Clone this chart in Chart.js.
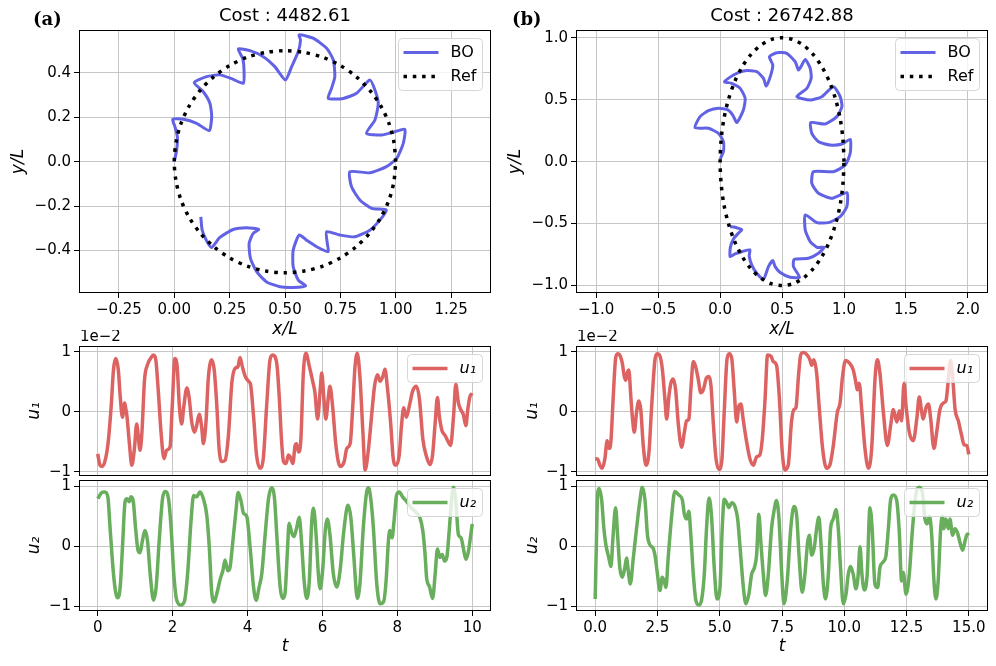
<!DOCTYPE html>
<html lang="en">

<head>
    <meta charset="UTF-8">
    <title>BO vs Ref</title>
    <script src="https://cdn.jsdelivr.net/npm/chart.js"></script>
    <style>
        body { margin: 0; background: #fff; }
        #fig { position: relative; width: 996px; height: 666px; }
        canvas { position: absolute; }
    </style>
</head>

<body>
    <div id="fig">
        <canvas id="trajA" width="500" height="345" style="left:0;top:0"></canvas>
        <canvas id="trajB" width="496" height="345" style="left:500px;top:0"></canvas>
        <canvas id="u1A" width="500" height="158" style="left:0;top:330px"></canvas>
        <canvas id="u2A" width="500" height="194" style="left:0;top:468px"></canvas>
        <canvas id="u1B" width="496" height="158" style="left:500px;top:330px"></canvas>
        <canvas id="u2B" width="496" height="194" style="left:500px;top:468px"></canvas>
    </div>

<script>
    // reference path (circle for a, ellipse for b)
    const refX = [1.000, 0.992, 0.970, 0.933, 0.883, 0.821, 0.750, 0.671, 0.587, 0.500, 0.413, 0.329, 0.250, 0.179, 0.117, 0.067, 0.030, 0.008, 0.000,
        0.008, 0.030, 0.067, 0.117, 0.179, 0.250, 0.329, 0.413, 0.500, 0.587, 0.671, 0.750, 0.821, 0.883, 0.933, 0.970, 0.992, 1.000];
    const refAy = [0.000, 0.087, 0.171, 0.250, 0.321, 0.383, 0.433, 0.470, 0.492, 0.500, 0.492, 0.470, 0.433, 0.383, 0.321, 0.250, 0.171, 0.087, 0.000,
        -0.087, -0.171, -0.250, -0.321, -0.383, -0.433, -0.470, -0.492, -0.500, -0.492, -0.470, -0.433, -0.383, -0.321, -0.250, -0.171, -0.087, 0.000];
    const refBy = [0.000, 0.174, 0.342, 0.500, 0.643, 0.766, 0.866, 0.940, 0.985, 1.000, 0.985, 0.940, 0.866, 0.766, 0.643, 0.500, 0.342, 0.174, 0.000,
        -0.174, -0.342, -0.500, -0.643, -0.766, -0.866, -0.940, -0.985, -1.000, -0.985, -0.940, -0.866, -0.766, -0.643, -0.500, -0.342, -0.174, 0.000];

    // BO trajectory (a)
    const boAx = [0.000, 0.011, 0.014, 0.003, -0.007, 0.041, 0.101, 0.158, 0.169, 0.161, 0.131, 0.090, 0.146, 0.206, 0.266, 0.312, 0.315, 0.309, 0.289, 0.342,
        0.402, 0.454, 0.502, 0.530, 0.560, 0.570, 0.564, 0.627, 0.688, 0.718, 0.725, 0.710, 0.695, 0.763, 0.823, 0.883, 0.906, 0.921, 0.906, 0.868,
        0.936, 0.996, 1.041, 1.034, 1.004, 0.958, 0.883, 0.793, 0.800, 0.838, 0.891, 0.958, 0.928, 0.883, 0.815, 0.748, 0.688, 0.691, 0.695, 0.643,
        0.597, 0.564, 0.537, 0.537, 0.560, 0.593, 0.537, 0.477, 0.417, 0.372, 0.344, 0.338, 0.356, 0.381, 0.326, 0.266, 0.206, 0.168, 0.146, 0.126, 0.120];
    const boAy = [0.000, 0.053, 0.113, 0.158, 0.191, 0.191, 0.173, 0.140, 0.203, 0.263, 0.315, 0.356, 0.383, 0.391, 0.371, 0.353, 0.413, 0.465, 0.508, 0.500,
        0.473, 0.428, 0.368, 0.428, 0.496, 0.548, 0.571, 0.556, 0.511, 0.458, 0.383, 0.330, 0.285, 0.285, 0.308, 0.368, 0.323, 0.263, 0.188, 0.128,
        0.120, 0.135, 0.146, 0.083, 0.015, -0.022, -0.050, -0.045, -0.112, -0.172, -0.210, -0.218, -0.263, -0.308, -0.338, -0.330, -0.315, -0.368, -0.405, -0.383,
        -0.353, -0.330, -0.398, -0.473, -0.533, -0.559, -0.566, -0.563, -0.541, -0.495, -0.435, -0.368, -0.323, -0.305, -0.297, -0.305, -0.341, -0.386, -0.356, -0.308, -0.248];

    // BO trajectory (b)
    const boBx = [0.000, 0.027, 0.027, -0.013, -0.094, -0.202, -0.162, -0.094, -0.013, 0.062, 0.102, 0.135, 0.188, 0.202, 0.162, 0.094, 0.035, 0.108, 0.202, 0.296,
        0.350, 0.372, 0.409, 0.425, 0.398, 0.458, 0.538, 0.606, 0.633, 0.660, 0.687, 0.727, 0.735, 0.700, 0.619, 0.727, 0.821, 0.915, 0.969, 0.983,
        0.942, 0.848, 0.732, 0.740, 0.794, 0.888, 0.983, 1.050, 1.050, 1.010, 0.915, 0.754, 0.740, 0.794, 0.902, 1.023, 1.023, 0.969, 0.875, 0.781,
        0.687, 0.687, 0.727, 0.781, 0.840, 0.794, 0.713, 0.598, 0.592, 0.641, 0.565, 0.485, 0.444, 0.425, 0.390, 0.350, 0.296, 0.255, 0.235, 0.240,
        0.180, 0.120, 0.081, 0.083, 0.110, 0.150, 0.175, 0.120, 0.081];
    const boBy = [0.020, 0.081, 0.161, 0.228, 0.269, 0.274, 0.363, 0.411, 0.430, 0.417, 0.376, 0.315, 0.417, 0.511, 0.591, 0.632, 0.645, 0.699, 0.734, 0.726,
        0.672, 0.610, 0.699, 0.780, 0.847, 0.879, 0.874, 0.806, 0.739, 0.780, 0.825, 0.753, 0.672, 0.591, 0.524, 0.497, 0.524, 0.605, 0.524, 0.444,
        0.363, 0.304, 0.315, 0.228, 0.161, 0.134, 0.142, 0.180, 0.067, -0.027, -0.081, -0.081, -0.175, -0.255, -0.296, -0.250, -0.363, -0.444, -0.492, -0.492,
        -0.430, -0.551, -0.645, -0.691, -0.691, -0.739, -0.780, -0.788, -0.847, -0.933, -0.933, -0.895, -0.847, -0.798, -0.847, -0.949, -0.901, -0.833, -0.760, -0.712,
        -0.725, -0.745, -0.766, -0.690, -0.620, -0.575, -0.551, -0.530, -0.525];

    // controls (a), units of 1e-2
    const tA1 = [0, 0.06, 0.11, 0.19, 0.28, 0.36, 0.42, 0.48, 0.55, 0.60, 0.66, 0.72, 0.75, 0.78, 0.85, 0.91, 0.98, 1.04, 1.08, 1.13,
        1.18, 1.25, 1.33, 1.44, 1.49, 1.55, 1.62, 1.69, 1.77, 1.84, 1.93, 1.99, 2.06, 2.12, 2.18, 2.24, 2.30, 2.38, 2.44, 2.51,
        2.58, 2.64, 2.71, 2.78, 2.82, 2.89, 2.95, 3.04, 3.11, 3.18, 3.24, 3.31, 3.40, 3.49, 3.58, 3.67, 3.74, 3.80, 3.86, 3.94,
        4.03, 4.08, 4.16, 4.24, 4.33, 4.42, 4.51, 4.60, 4.67, 4.78, 4.85, 4.90, 4.96, 5.03, 5.09, 5.14, 5.21, 5.27, 5.31, 5.36,
        5.42, 5.49, 5.56, 5.65, 5.74, 5.80, 5.87, 5.94, 5.98, 6.04, 6.09, 6.16, 6.20, 6.27, 6.36, 6.47, 6.58, 6.65, 6.74, 6.81,
        6.87, 6.93, 7.00, 7.08, 7.14, 7.23, 7.32, 7.39, 7.47, 7.54, 7.61, 7.67, 7.73, 7.82, 7.89, 7.96, 8.05, 8.11, 8.17, 8.24,
        8.32, 8.41, 8.51, 8.59, 8.68, 8.78, 8.87, 8.94, 9.01, 9.07, 9.12, 9.19, 9.27, 9.36, 9.42, 9.50, 9.56, 9.63, 9.69, 9.76,
        9.83, 9.88, 9.94, 10.0];
    const uA1 = [-0.70, -0.89, -0.91, -0.83, -0.50, 0.10, 0.70, 0.89, 0.70, 0.26, -0.09, 0.15, 0.05, -0.07, -0.56, -0.89, -0.61, -0.20, -0.39, -0.64,
        -0.34, 0.54, 0.79, 0.92, 0.95, 0.87, 0.32, -0.34, -0.78, -0.64, -0.59, 0.10, 0.89, 0.76, 0.10, -0.20, 0.10, 0.40, 0.24, -0.17,
        -0.34, -0.23, -0.04, -0.28, -0.53, -0.17, 0.54, 0.87, 0.70, 0.10, -0.61, -0.83, -0.81, -0.39, 0.48, 0.73, 0.75, 0.91, 0.76, 0.59,
        0.51, 0.46, -0.07, -0.72, -0.94, -0.78, 0.10, 0.87, 0.95, 0.81, 0.21, -0.40, -0.83, -0.86, -0.72, -0.75, -0.86, -0.56, -0.53, -0.67,
        -0.50, 0.65, 0.98, 0.76, 0.51, 0.32, -0.12, 0.37, 0.65, 0.21, -0.12, 0.26, 0.43, 0.10, -0.56, -0.91, -0.83, -0.61, -0.53, 0.10,
        0.76, 0.98, 0.59, -0.34, -0.97, -0.61, -0.01, 0.43, 0.62, 0.51, 0.59, 0.71, 0.43, -0.18, -0.78, -0.89, -0.72, -0.23, 0.07, -0.09,
        0.10, 0.35, 0.43, 0.21, -0.45, -0.75, -0.88, -0.72, -0.18, 0.24, -0.07, -0.31, -0.39, -0.50, -0.56, -0.07, 0.46, 0.15, 0.04, -0.04,
        -0.23, 0.04, 0.26, 0.31];
    const tA2 = [0, 0.11, 0.19, 0.27, 0.33, 0.42, 0.48, 0.53, 0.60, 0.66, 0.73, 0.78, 0.84, 0.89, 0.95, 1.01, 1.08, 1.13, 1.19, 1.26,
        1.33, 1.40, 1.49, 1.56, 1.64, 1.73, 1.80, 1.89, 1.96, 2.03, 2.11, 2.22, 2.31, 2.40, 2.49, 2.56, 2.64, 2.73, 2.82, 2.91,
        2.98, 3.04, 3.11, 3.18, 3.27, 3.34, 3.40, 3.47, 3.53, 3.59, 3.68, 3.75, 3.83, 3.89, 3.98, 4.07, 4.16, 4.23, 4.31, 4.38,
        4.47, 4.56, 4.64, 4.72, 4.78, 4.87, 4.94, 5.00, 5.06, 5.11, 5.18, 5.24, 5.31, 5.38, 5.44, 5.51, 5.58, 5.65, 5.71, 5.76,
        5.83, 5.89, 5.94, 6.01, 6.08, 6.13, 6.20, 6.29, 6.38, 6.47, 6.56, 6.65, 6.69, 6.76, 6.84, 6.93, 7.00, 7.09, 7.18, 7.23,
        7.29, 7.36, 7.45, 7.54, 7.63, 7.70, 7.76, 7.80, 7.86, 7.91, 7.98, 8.05, 8.14, 8.25, 8.38, 8.52, 8.61, 8.68, 8.74, 8.78,
        8.86, 8.94, 9.01, 9.07, 9.14, 9.20, 9.26, 9.32, 9.39, 9.45, 9.50, 9.56, 9.63, 9.70, 9.76, 9.83, 9.90, 9.96, 10.0];
    const uA2 = [0.79, 0.89, 0.90, 0.82, 0.30, -0.46, -0.77, -0.86, -0.68, -0.03, 0.74, 0.79, 0.74, 0.82, 0.74, 0.30, -0.08, -0.11, 0.08, 0.26,
        0.08, -0.46, -0.90, -0.68, 0.08, 0.79, 0.91, 0.79, 0.30, -0.46, -0.90, -0.98, -0.93, -0.46, 0.41, 0.84, 0.82, 0.90, 0.79, 0.52,
        -0.03, -0.74, -0.93, -0.79, -0.55, -0.41, -0.23, -0.41, -0.36, -0.03, 0.52, 0.89, 0.74, 0.55, 0.49, -0.03, -0.68, -0.90, -0.68, -0.46,
        0.19, 0.79, 0.97, 0.79, 0.19, -0.68, -0.87, -0.79, -0.14, 0.38, 0.22, 0.16, 0.30, 0.48, 0.08, -0.57, -0.87, -0.57, 0.36, 0.63,
        0.19, -0.46, -0.71, -0.36, 0.30, 0.45, 0.19, -0.46, -0.68, -0.41, 0.19, 0.63, 0.68, 0.46, -0.19, -0.87, -0.63, 0.30, 0.90, 0.97,
        0.79, 0.30, -0.63, -0.96, -0.93, -0.57, 0.08, 0.26, 0.14, 0.41, 0.85, 0.90, 0.82, 0.74, 0.63, 0.55, 0.46, 0.25, -0.14, -0.52,
        -0.68, -0.87, -0.46, -0.05, -0.19, -0.14, -0.25, -0.19, 0.30, 0.79, 0.98, 0.74, 0.19, 0.14, -0.03, -0.22, -0.08, 0.19, 0.37];

    // controls (b), units of 1e-2
    const tB1 = [0, 0.10, 0.19, 0.28, 0.39, 0.48, 0.56, 0.63, 0.72, 0.82, 0.90, 1.01, 1.09, 1.17, 1.23, 1.30, 1.35, 1.43, 1.50, 1.57,
        1.66, 1.75, 1.83, 1.93, 2.04, 2.16, 2.26, 2.40, 2.49, 2.61, 2.70, 2.80, 2.87, 2.96, 3.04, 3.13, 3.23, 3.33, 3.47, 3.58,
        3.67, 3.76, 3.84, 3.94, 4.03, 4.14, 4.24, 4.34, 4.47, 4.57, 4.65, 4.74, 4.85, 4.97, 5.08, 5.18, 5.29, 5.38, 5.48, 5.58,
        5.68, 5.77, 5.85, 5.94, 6.08, 6.21, 6.35, 6.48, 6.61, 6.71, 6.82, 6.92, 7.06, 7.15, 7.28, 7.39, 7.51, 7.62, 7.75, 7.88,
        7.98, 8.06, 8.16, 8.25, 8.35, 8.49, 8.62, 8.69, 8.78, 8.89, 8.99, 9.13, 9.29, 9.42, 9.56, 9.72, 9.83, 9.93, 10.05, 10.20,
        10.36, 10.47, 10.52, 10.60, 10.70, 10.83, 10.97, 11.10, 11.24, 11.33, 11.43, 11.57, 11.73, 11.86, 11.97, 12.11, 12.21, 12.30, 12.40, 12.48,
        12.61, 12.77, 12.91, 13.01, 13.11, 13.17, 13.28, 13.38, 13.47, 13.60, 13.71, 13.84, 13.98, 14.08, 14.18, 14.27, 14.35, 14.45, 14.58, 14.71,
        14.81, 14.92, 15.0];
    const uB1 = [-0.78, -0.79, -0.89, -0.94, -0.78, -0.48, -0.61, -0.50, 0.21, 0.89, 0.97, 0.93, 0.81, 0.59, 0.53, 0.67, 0.70, 0.26, -0.12, -0.34,
        -0.01, 0.18, 0.04, -0.56, -0.89, -0.67, 0.04, 0.87, 0.97, 0.92, 0.70, 0.21, -0.12, 0.26, 0.48, 0.55, 0.37, -0.17, -0.59, -0.34,
        -0.15, -0.12, 0.37, 0.84, 0.76, 0.54, 0.32, 0.37, 0.57, 0.59, 0.43, -0.17, -0.78, -0.96, -0.83, -0.01, 0.87, 0.97, 0.90, 0.37,
        -0.17, 0.10, 0.13, -0.12, -0.50, -0.78, -0.89, -0.75, -0.72, -0.45, 0.21, 0.95, 0.93, 0.84, 0.78, 0.26, -0.67, -0.97, -0.89, -0.17,
        0.04, 0.07, 0.59, 0.95, 0.99, 0.96, 0.87, 0.78, 0.87, 0.65, 0.10, -0.61, -0.94, -0.89, -0.56, -0.01, 0.15, 0.59, 0.86, 0.82,
        0.70, 0.48, 0.37, 0.48, 0.04, -0.61, -0.94, -0.61, 0.59, 0.87, 0.65, -0.01, -0.56, -0.23, 0.04, -0.17, 0.02, -0.15, 0.48, 0.10,
        -0.34, -0.48, -0.12, 0.25, -0.01, -0.12, 0.07, 0.13, -0.12, -0.61, -0.34, 0.04, 0.15, 0.18, 0.54, 0.86, 0.59, 0.04, -0.15, -0.39,
        -0.55, -0.56, -0.71];
    const tB2 = [0, 0.05, 0.10, 0.16, 0.26, 0.35, 0.43, 0.55, 0.63, 0.72, 0.82, 0.90, 0.99, 1.09, 1.19, 1.26, 1.33, 1.41, 1.53, 1.66,
        1.80, 1.89, 2.00, 2.10, 2.20, 2.33, 2.42, 2.50, 2.60, 2.69, 2.77, 2.84, 2.93, 3.07, 3.20, 3.36, 3.50, 3.58, 3.67, 3.76,
        3.84, 3.94, 4.04, 4.16, 4.27, 4.38, 4.47, 4.57, 4.67, 4.78, 4.89, 5.01, 5.10, 5.18, 5.28, 5.37, 5.48, 5.61, 5.72, 5.82,
        5.95, 6.05, 6.17, 6.28, 6.39, 6.48, 6.57, 6.65, 6.75, 6.84, 6.95, 7.08, 7.19, 7.28, 7.38, 7.49, 7.58, 7.71, 7.85, 7.98,
        8.09, 8.19, 8.31, 8.42, 8.53, 8.60, 8.69, 8.79, 8.89, 8.98, 9.06, 9.16, 9.25, 9.36, 9.45, 9.56, 9.67, 9.76, 9.85, 9.96,
        10.07, 10.16, 10.25, 10.36, 10.47, 10.56, 10.63, 10.71, 10.80, 10.92, 11.03, 11.12, 11.23, 11.34, 11.43, 11.57, 11.67, 11.77, 11.86, 11.97,
        12.10, 12.21, 12.30, 12.37, 12.48, 12.61, 12.74, 12.88, 13.01, 13.14, 13.24, 13.33, 13.42, 13.51, 13.60, 13.68, 13.77, 13.87, 13.94, 14.00,
        14.08, 14.18, 14.24, 14.35, 14.44, 14.54, 14.64, 14.75, 14.84, 14.94, 15.0];
    const uB2 = [-0.88, 0.07, 0.88, 0.96, 0.77, 0.29, 0.02, -0.20, -0.34, 0.18, 0.64, 0.18, -0.36, -0.52, -0.36, -0.20, -0.42, -0.63, -0.20, 0.29,
        0.77, 0.98, 0.77, 0.18, 0.02, -0.04, -0.20, -0.47, -0.74, -0.52, -0.58, -0.69, -0.20, 0.50, 0.91, 0.85, 0.77, 0.53, 0.45, 0.58,
        0.18, -0.47, -0.90, -0.98, -0.90, -0.47, 0.29, 0.80, 0.50, -0.36, -0.88, -0.69, 0.29, 0.78, 0.72, 0.64, 0.72, 0.66, 0.45, -0.04,
        -0.69, -0.96, -0.80, -0.47, -0.36, -0.15, 0.53, 0.07, -0.47, -0.82, -0.47, 0.29, 0.61, 0.76, 0.45, -0.47, -0.96, -0.58, 0.29, 0.66,
        0.50, -0.20, -0.77, -0.47, 0.07, 0.18, -0.15, -0.04, 0.29, 0.48, 0.07, -0.63, -0.88, -0.47, 0.29, 0.45, 0.61, 0.29, -0.36, -0.96,
        -0.80, -0.47, -0.34, -0.47, -0.71, -0.47, -0.01, -0.47, -0.73, -0.47, 0.64, 0.29, -0.63, -0.69, -0.36, -0.26, -0.17, 0.29, 0.77, 0.85,
        0.77, 0.23, -0.58, -0.44, -0.80, -0.47, 0.29, 0.88, 0.98, 0.88, 0.45, 0.37, 0.50, 0.18, -0.58, -0.88, -0.58, 0.29, 0.50, 0.29,
        0.45, 0.29, 0.45, 0.18, 0.29, 0.23, 0.07, -0.07, 0.07, 0.20, 0.18];

    const BLUE = '#6262e4';
    const RED = '#dd6262';
    const GREEN = '#68ae5c';

    Chart.defaults.font.family = 'DejaVu Sans';
    Chart.defaults.font.size = 15;
    Chart.defaults.color = '#000';

    function pts(xs, ys) {
        return xs.map((x, i) => ({ x: x, y: ys[i] }));
    }

    // matplotlib-like legend box inside the axes
    const boxLegend = {
        id: 'boxLegend',
        afterDatasetsDraw(chart, args, opts) {
            const ctx = chart.ctx, a = chart.chartArea;
            const sets = chart.data.datasets;
            ctx.save();
            ctx.font = opts.font;
            let tw = 0;
            sets.forEach(d => { tw = Math.max(tw, ctx.measureText(d.label).width); });
            const w = Math.round(58 + tw), h = sets.length * 24 + 4;
            const x = Math.round(a.right - 9 - w) + 0.5, y = Math.round(a.top + 8) + 0.5;
            ctx.beginPath();
            if (ctx.roundRect) ctx.roundRect(x, y, w, h, 4); else ctx.rect(x, y, w, h);
            ctx.fillStyle = 'rgba(255,255,255,0.8)';
            ctx.fill();
            ctx.strokeStyle = '#d6d6d6';
            ctx.lineWidth = 1;
            ctx.stroke();
            sets.forEach((d, i) => {
                const cy = y + 14 + i * 24;
                ctx.beginPath();
                ctx.setLineDash(d.borderDash || []);
                ctx.strokeStyle = d.borderColor;
                ctx.lineWidth = d.borderWidth;
                ctx.moveTo(x + 5, cy);
                ctx.lineTo(x + 40, cy);
                ctx.stroke();
                ctx.setLineDash([]);
                ctx.fillStyle = '#000';
                ctx.textAlign = 'left';
                ctx.textBaseline = 'middle';
                ctx.fillText(d.label, x + 52, cy);
            });
            ctx.restore();
        }
    };

    // full black frame round the axes
    const frame = {
        id: 'frame',
        afterDraw(chart) {
            const a = chart.chartArea, ctx = chart.ctx;
            ctx.save();
            ctx.strokeStyle = '#000';
            ctx.lineWidth = 1;
            ctx.strokeRect(Math.round(a.left) + 0.5, Math.round(a.top) + 0.5,
                Math.round(a.right - a.left) - 1, Math.round(a.bottom - a.top) - 1);
            ctx.restore();
        }
    };

    // loose texts: titles, panel letters, offset text
    const notes = {
        id: 'notes',
        afterDraw(chart, args, opts) {
            const ctx = chart.ctx, a = chart.chartArea;
            (opts.items || []).forEach(it => {
                ctx.save();
                ctx.font = it.font;
                ctx.fillStyle = '#000';
                ctx.textAlign = it.align || 'left';
                ctx.textBaseline = 'middle';
                const x = it.x === 'mid' ? (a.left + a.right) / 2 : it.x;
                ctx.fillText(it.text, x, it.y);
                ctx.restore();
            });
        }
    };

    function axis(a, dir) {
        const showTicks = a.ticks !== false;
        return {
            type: 'linear',
            min: a.min,
            max: a.max,
            border: { display: false },
            grid: {
                color: '#c6c6c6', lineWidth: 1,
                drawTicks: showTicks, tickLength: 5, tickColor: '#000', tickWidth: 1
            },
            ticks: {
                display: showTicks,
                stepSize: a.step,
                includeBounds: false,
                autoSkip: false,
                maxRotation: 0,
                minRotation: 0,
                padding: 3,
                color: '#000',
                font: { size: 15 },
                callback: v => (Math.abs(v) < 1e-9 ? 0 : v).toFixed(a.dec).replace('-', '\u2212')
            },
            title: {
                display: !!a.title,
                text: a.title,
                color: '#000',
                font: { size: 17, style: 'italic' },
                padding: { top: a.titlePad || 0, bottom: a.titlePad || 0 }
            },
            afterFit: s => {
                if (dir === 'x') s.height = a.size; else s.width = a.size;
            }
        };
    }

    function makePanel(id, cfg) {
        return new Chart(document.getElementById(id), {
            type: 'scatter',
            data: { datasets: cfg.datasets },
            options: {
                responsive: false,
                animation: false,
                devicePixelRatio: 1,
                layout: { padding: { top: cfg.padTop, right: cfg.padRight, left: 0, bottom: 0 } },
                elements: { point: { radius: 0 } },
                plugins: {
                    legend: { display: false },
                    tooltip: { enabled: false },
                    boxLegend: { font: cfg.legendFont },
                    notes: { items: cfg.notes || [] }
                },
                scales: {
                    x: axis(cfg.x, 'x'),
                    y: axis(cfg.y, 'y')
                }
            },
            plugins: [boxLegend, frame, notes]
        });
    }

    function trajSets(bx, by, ry) {
        return [
            { label: 'BO', data: pts(bx, by), showLine: true, borderColor: BLUE, borderWidth: 3, tension: 0.2, order: 1 },
            { label: 'Ref', data: pts(refX, ry), showLine: true, borderColor: '#000', borderWidth: 3.5, borderDash: [3.5, 5.8], tension: 0.3, order: 0 }
        ];
    }

    function ctrlSet(label, t, u, color) {
        return [{ label: label, data: pts(t, u), showLine: true, borderColor: color, borderWidth: 3.5, cubicInterpolationMode: 'monotone' }];
    }

    // top row: trajectories
    makePanel('trajA', {
        datasets: trajSets(boAx, boAy, refAy),
        padTop: 30, padRight: 9, legendFont: '16px DejaVu Sans',
        x: { min: -0.43, max: 1.43, step: 0.25, dec: 2, size: 52, title: 'x/L', titlePad: 5 },
        y: { min: -0.591, max: 0.593, step: 0.2, dec: 1, size: 79, title: 'y/L', titlePad: 8 },
        notes: [
            { text: 'Cost : 4482.61', x: 'mid', y: 16, font: '18px DejaVu Sans', align: 'center' },
            { text: '(a)', x: 33, y: 20, font: 'bold 18px DejaVu Serif' }
        ]
    });
    makePanel('trajB', {
        datasets: trajSets(boBx, boBy, refBy),
        padTop: 30, padRight: 8, legendFont: '16px DejaVu Sans',
        x: { min: -1.163, max: 2.162, step: 0.5, dec: 1, size: 52, title: 'x/L', titlePad: 5 },
        y: { min: -1.06, max: 1.062, step: 0.5, dec: 1, size: 76, title: 'y/L', titlePad: 5 },
        notes: [
            { text: 'Cost : 26742.88', x: 'mid', y: 16, font: '18px DejaVu Sans', align: 'center' },
            { text: '(b)', x: 12, y: 20, font: 'bold 18px DejaVu Serif' }
        ]
    });

    // bottom rows: controls
    makePanel('u1A', {
        datasets: ctrlSet('u\u2081', tA1, uA1, RED),
        padTop: 16, padRight: 9, legendFont: 'italic 16px DejaVu Sans',
        x: { min: -0.5, max: 10.5, step: 2, dec: 0, size: 10, ticks: false },
        y: { min: -1.07, max: 1.1, step: 1, dec: 0, size: 79, title: 'u\u2081', titlePad: 24 },
        notes: [{ text: '1e\u22122', x: 80, y: 7, font: '15px DejaVu Sans' }]
    });
    makePanel('u2A', {
        datasets: ctrlSet('u\u2082', tA2, uA2, GREEN),
        padTop: 10, padRight: 9, legendFont: 'italic 16px DejaVu Sans',
        x: { min: -0.5, max: 10.5, step: 2, dec: 0, size: 51, title: 't', titlePad: 5 },
        y: { min: -1.08, max: 1.1, step: 1, dec: 0, size: 79, title: 'u\u2082', titlePad: 24 }
    });
    makePanel('u1B', {
        datasets: ctrlSet('u\u2081', tB1, uB1, RED),
        padTop: 16, padRight: 8, legendFont: 'italic 16px DejaVu Sans',
        x: { min: -0.77, max: 15.77, step: 2.5, dec: 1, size: 10, ticks: false },
        y: { min: -1.07, max: 1.1, step: 1, dec: 0, size: 76, title: 'u\u2081', titlePad: 22 },
        notes: [{ text: '1e\u22122', x: 77, y: 7, font: '15px DejaVu Sans' }]
    });
    makePanel('u2B', {
        datasets: ctrlSet('u\u2082', tB2, uB2, GREEN),
        padTop: 10, padRight: 8, legendFont: 'italic 16px DejaVu Sans',
        x: { min: -0.77, max: 15.77, step: 2.5, dec: 1, size: 51, title: 't', titlePad: 5 },
        y: { min: -1.08, max: 1.1, step: 1, dec: 0, size: 76, title: 'u\u2082', titlePad: 22 }
    });
</script>
</body>

</html>
